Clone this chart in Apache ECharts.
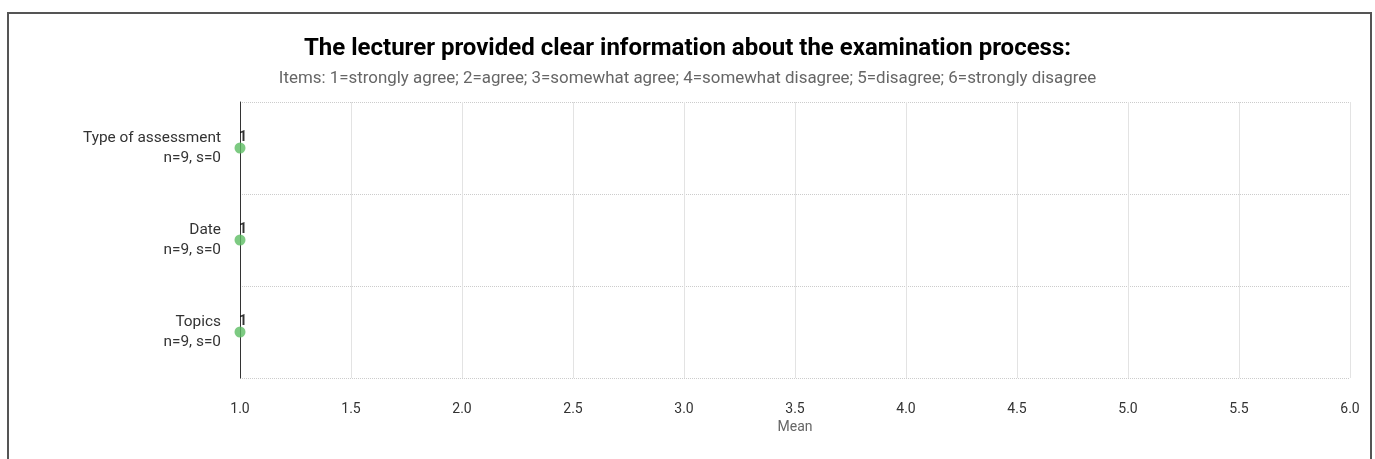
<!DOCTYPE html>
<html>
<head>
<meta charset="utf-8">
<script src="https://cdn.jsdelivr.net/npm/echarts@6/dist/echarts.min.js"></script>
<style>
    html, body {margin: 0; padding: 0; background: #fff;}
    #chart {width: 1375px; height: 459px;}
</style>
</head>
<body>
<div id="chart"></div>
<script>
// 数据
var items = ['Type of assessment', 'Date', 'Topics'];
var itemStats = ['n=9, s=0', 'n=9, s=0', 'n=9, s=0'];
var means = [1, 1, 1];
var xTicks = [1.0, 1.5, 2.0, 2.5, 3.0, 3.5, 4.0, 4.5, 5.0, 5.5, 6.0];

var cats = [];
for (var i = 0; i < items.length; i++) {
    cats.push(items[i] + '\n' + itemStats[i]);
}

var myChart = echarts.init(document.getElementById('chart'));
myChart.setOption({
    textStyle: {fontFamily: 'Roboto'},
    title: {
        text: 'The lecturer provided clear information about the examination process:',
        subtext: 'Items: 1=strongly agree; 2=agree; 3=somewhat agree; 4=somewhat disagree; 5=disagree; 6=strongly disagree',
        left: 'center',
        top: 32,
        itemGap: 9,
        textStyle: {fontSize: 24, fontWeight: 'bold', color: '#000', fontFamily: 'Roboto'},
        subtextStyle: {fontSize: 16.9, color: '#666', fontFamily: 'Roboto'}
    },
    graphic: [{
        type: 'rect',
        shape: {x: 8, y: 13, width: 1363, height: 460},
        style: {fill: 'none', stroke: '#555', lineWidth: 2},
        silent: true
    }],
    grid: {left: 240, right: 25, top: 102, bottom: 81},
    xAxis: {
        type: 'value',
        min: xTicks[0],
        max: xTicks[xTicks.length - 1],
        interval: 0.5,
        name: 'Mean',
        nameLocation: 'middle',
        nameGap: 26,
        nameTextStyle: {color: '#666', fontSize: 14},
        axisLine: {show: false},
        axisTick: {show: false},
        axisLabel: {color: '#333', fontSize: 14, margin: 24, formatter: function (v) { return v.toFixed(1); }},
        splitLine: {show: true, lineStyle: {color: '#e3e3e3', type: 'solid'}}
    },
    yAxis: {
        type: 'category',
        data: cats,
        inverse: true,
        axisLine: {show: true, lineStyle: {color: '#333', width: 1}},
        axisTick: {show: false},
        axisLabel: {color: '#333', fontSize: 15.4, align: 'right', margin: 19, lineHeight: 20, padding: [4, 0, 0, 0]},
        splitLine: {show: true, lineStyle: {color: '#ccc', type: 'dotted'}}
    },
    series: [{
        type: 'scatter',
        data: means,
        symbolSize: 11,
        itemStyle: {color: '#5cbd63'},
        label: {
            show: true,
            position: 'top',
            distance: 0,
            offset: [3, 2],
            color: '#000',
            fontWeight: 'bold',
            fontSize: 14
        }
    }]
});
</script>
</body>
</html>
